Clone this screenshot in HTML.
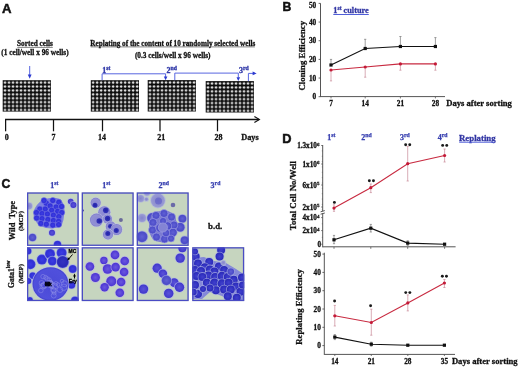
<!DOCTYPE html>
<html><head><meta charset="utf-8"><style>
html,body{margin:0;padding:0;background:#fff;}
svg.main{display:block;will-change:transform;filter:blur(0.3px);}
</style></head><body>
<svg class="main" width="520" height="368" viewBox="0 0 520 368">
<defs>
<pattern id="wells" x="0" y="0" width="4" height="3.9" patternUnits="userSpaceOnUse">
<circle cx="2.3" cy="2.4" r="1.15" fill="#fff"/>
</pattern>
<radialGradient id="gB"><stop offset="0" stop-color="#3c3ce4"/><stop offset="0.75" stop-color="#3030d6"/><stop offset="1" stop-color="#4848d8"/></radialGradient>
<radialGradient id="gC"><stop offset="0" stop-color="#5a52d8"/><stop offset="0.7" stop-color="#4840d0"/><stop offset="1" stop-color="#3c34c8"/></radialGradient>
<radialGradient id="gE"><stop offset="0" stop-color="#4040cc"/><stop offset="0.7" stop-color="#3030c0"/><stop offset="1" stop-color="#2a2ab4"/></radialGradient>
<radialGradient id="gD"><stop offset="0" stop-color="#3434c0"/><stop offset="0.8" stop-color="#2a2ab8"/><stop offset="1" stop-color="#4040c8"/></radialGradient>
<radialGradient id="gV"><stop offset="0" stop-color="#6a58dc"/><stop offset="0.55" stop-color="#5a44da"/><stop offset="1" stop-color="#4a34d0"/></radialGradient>
<radialGradient id="gM"><stop offset="0" stop-color="#6060d4"/><stop offset="0.8" stop-color="#4c4cc8"/><stop offset="1" stop-color="#5a5ad0"/></radialGradient>
<radialGradient id="gL"><stop offset="0" stop-color="#8484cc"/><stop offset="1" stop-color="#9a9cd4"/></radialGradient>
<radialGradient id="gP"><stop offset="0" stop-color="#8a88d2"/><stop offset="0.8" stop-color="#9290d4"/><stop offset="1" stop-color="#7c7ac8"/></radialGradient>
<radialGradient id="gN"><stop offset="0" stop-color="#2222a8"/><stop offset="1" stop-color="#3434b8"/></radialGradient>
<radialGradient id="gK"><stop offset="0" stop-color="#3a3ac4"/><stop offset="0.25" stop-color="#4c4cd8"/><stop offset="0.9" stop-color="#5050dc"/><stop offset="1" stop-color="#4040cc"/></radialGradient>
</defs>
<rect width="520" height="368" fill="#fff"/>
<text x="1.9" y="12.7" font-size="13.2" text-anchor="start" font-family="Liberation Sans" font-weight="bold" fill="#111" stroke="#111" stroke-width="0.5">A</text>
<text x="35" y="46.2" font-size="7.3" text-anchor="middle" font-family="Liberation Serif" font-weight="bold" fill="#111"  stroke="#111" stroke-width="0.28">Sorted cells</text>
<line x1="17.3" y1="47.4" x2="52.8" y2="47.4" stroke="#333" stroke-width="0.6"/>
<text x="35" y="54.9" font-size="7.3" text-anchor="middle" font-family="Liberation Serif" font-weight="bold" fill="#111"  stroke="#111" stroke-width="0.28">(1 cell/well x 96 wells)</text>
<text x="172.8" y="45.7" font-size="7.2" text-anchor="middle" font-family="Liberation Serif" font-weight="bold" fill="#111"  stroke="#111" stroke-width="0.28">Replating of the content of 10 randomly selected wells</text>
<line x1="90.7" y1="46.9" x2="254.9" y2="46.9" stroke="#333" stroke-width="0.6"/>
<text x="172.7" y="58.4" font-size="7.3" text-anchor="middle" font-family="Liberation Serif" font-weight="bold" fill="#111"  stroke="#111" stroke-width="0.28">(0.3 cells/well x 96 wells)</text>
<g transform="translate(2.7,80.2)"><rect width="48.2" height="31.4" fill="#0a0a0a"/><rect width="48.2" height="31.4" fill="url(#wells)"/></g>
<g transform="translate(90.8,80.2)"><rect width="48.2" height="31.4" fill="#0a0a0a"/><rect width="48.2" height="31.4" fill="url(#wells)"/></g>
<g transform="translate(147.7,80.1)"><rect width="48.2" height="31.4" fill="#0a0a0a"/><rect width="48.2" height="31.4" fill="url(#wells)"/></g>
<g transform="translate(205.7,81.1)"><rect width="48.2" height="31.4" fill="#0a0a0a"/><rect width="48.2" height="31.4" fill="url(#wells)"/></g>
<line x1="29.7" y1="66" x2="29.7" y2="75" stroke="#5866e0" stroke-width="1"/>
<polygon points="27.8,74.4 31.6,74.4 29.7,78.8" fill="#2c3ad0"/>
<polyline points="102.1,80.2 102.1,73.8 165.6,73.8 165.6,77" fill="none" stroke="#5866e0" stroke-width="1"/>
<polygon points="163.8,76.4 167.4,76.4 165.6,80.2" fill="#2c3ad0"/>
<polyline points="174.8,80.2 174.8,73.1 238.3,73.1 238.3,77.5" fill="none" stroke="#5866e0" stroke-width="1"/>
<polygon points="236.5,77.2 240.1,77.2 238.3,81" fill="#2c3ad0"/>
<polyline points="248.4,81.1 248.4,73.4 253,73.4" fill="none" stroke="#5866e0" stroke-width="1"/>
<polygon points="252.6,71.5 252.6,75.2 256.7,73.4" fill="#2c3ad0"/>
<text x="102.3" y="72.7" font-size="8" font-family="Liberation Serif" font-weight="bold" fill="#3038a8" stroke="#3038a8" stroke-width="0.3">1<tspan font-size="5.76" dy="-3.00">st</tspan></text>
<text x="166.6" y="72.7" font-size="8" font-family="Liberation Serif" font-weight="bold" fill="#3038a8" stroke="#3038a8" stroke-width="0.3">2<tspan font-size="5.76" dy="-3.00">nd</tspan></text>
<text x="239.0" y="72.7" font-size="8" font-family="Liberation Serif" font-weight="bold" fill="#3038a8" stroke="#3038a8" stroke-width="0.3">3<tspan font-size="5.76" dy="-3.00">rd</tspan></text>
<line x1="5.0" y1="119.5" x2="259" y2="119.5" stroke="#111" stroke-width="1.3"/>
<polyline points="254.4,116.6 259.4,119.5 254.4,122.4" fill="none" stroke="#111" stroke-width="1.1"/>
<line x1="5.6" y1="119.5" x2="5.6" y2="131.3" stroke="#111" stroke-width="1.25"/>
<text x="6.8" y="140.3" font-size="8" text-anchor="middle" font-family="Liberation Serif" font-weight="bold" fill="#111"  stroke="#111" stroke-width="0.28">0</text>
<line x1="53.5" y1="119.5" x2="53.5" y2="131.3" stroke="#111" stroke-width="1.25"/>
<text x="53.4" y="140.3" font-size="8" text-anchor="middle" font-family="Liberation Serif" font-weight="bold" fill="#111"  stroke="#111" stroke-width="0.28">7</text>
<line x1="102.5" y1="119.5" x2="102.5" y2="131.3" stroke="#111" stroke-width="1.25"/>
<text x="101.9" y="140.3" font-size="8" text-anchor="middle" font-family="Liberation Serif" font-weight="bold" fill="#111"  stroke="#111" stroke-width="0.28">14</text>
<line x1="160" y1="119.5" x2="160" y2="131.3" stroke="#111" stroke-width="1.25"/>
<text x="161.2" y="140.3" font-size="8" text-anchor="middle" font-family="Liberation Serif" font-weight="bold" fill="#111"  stroke="#111" stroke-width="0.28">21</text>
<line x1="217.5" y1="119.5" x2="217.5" y2="131.3" stroke="#111" stroke-width="1.25"/>
<text x="218.6" y="140.3" font-size="8" text-anchor="middle" font-family="Liberation Serif" font-weight="bold" fill="#111"  stroke="#111" stroke-width="0.28">28</text>
<text x="241.2" y="139.8" font-size="8.3" text-anchor="start" font-family="Liberation Serif" font-weight="bold" fill="#111"  stroke="#111" stroke-width="0.28">Days</text>
<text x="282.4" y="11.3" font-size="12.2" text-anchor="start" font-family="Liberation Sans" font-weight="bold" fill="#111" stroke="#111" stroke-width="0.5">B</text>
<line x1="320.5" y1="3.3" x2="320.5" y2="97" stroke="#555" stroke-width="1"/>
<line x1="320.5" y1="96.6" x2="445" y2="96.6" stroke="#555" stroke-width="1"/>
<line x1="318.6" y1="3.4" x2="320.5" y2="3.4" stroke="#555" stroke-width="0.9"/>
<text x="316.2" y="7.5" font-size="7.3" text-anchor="end" font-family="Liberation Serif" font-weight="bold" fill="#111"  stroke="#111" stroke-width="0.28">50</text>
<line x1="318.6" y1="22.06" x2="320.5" y2="22.06" stroke="#555" stroke-width="0.9"/>
<text x="316.2" y="24.56" font-size="7.3" text-anchor="end" font-family="Liberation Serif" font-weight="bold" fill="#111"  stroke="#111" stroke-width="0.28">40</text>
<line x1="318.6" y1="40.72" x2="320.5" y2="40.72" stroke="#555" stroke-width="0.9"/>
<text x="316.2" y="43.22" font-size="7.3" text-anchor="end" font-family="Liberation Serif" font-weight="bold" fill="#111"  stroke="#111" stroke-width="0.28">30</text>
<line x1="318.6" y1="59.38" x2="320.5" y2="59.38" stroke="#555" stroke-width="0.9"/>
<text x="316.2" y="61.88" font-size="7.3" text-anchor="end" font-family="Liberation Serif" font-weight="bold" fill="#111"  stroke="#111" stroke-width="0.28">20</text>
<line x1="318.6" y1="78.04" x2="320.5" y2="78.04" stroke="#555" stroke-width="0.9"/>
<text x="316.2" y="80.54" font-size="7.3" text-anchor="end" font-family="Liberation Serif" font-weight="bold" fill="#111"  stroke="#111" stroke-width="0.28">10</text>
<line x1="318.6" y1="96.7" x2="320.5" y2="96.7" stroke="#555" stroke-width="0.9"/>
<text x="316.2" y="99.2" font-size="7.3" text-anchor="end" font-family="Liberation Serif" font-weight="bold" fill="#111"  stroke="#111" stroke-width="0.28">0</text>
<line x1="331" y1="96.7" x2="331" y2="98.4" stroke="#555" stroke-width="0.8"/>
<text x="331" y="106" font-size="7.3" text-anchor="middle" font-family="Liberation Serif" font-weight="bold" fill="#111"  stroke="#111" stroke-width="0.28">7</text>
<line x1="365.2" y1="96.7" x2="365.2" y2="98.4" stroke="#555" stroke-width="0.8"/>
<text x="365.2" y="106" font-size="7.3" text-anchor="middle" font-family="Liberation Serif" font-weight="bold" fill="#111"  stroke="#111" stroke-width="0.28">14</text>
<line x1="400.4" y1="96.7" x2="400.4" y2="98.4" stroke="#555" stroke-width="0.8"/>
<text x="400.4" y="106" font-size="7.3" text-anchor="middle" font-family="Liberation Serif" font-weight="bold" fill="#111"  stroke="#111" stroke-width="0.28">21</text>
<line x1="435.4" y1="96.7" x2="435.4" y2="98.4" stroke="#555" stroke-width="0.8"/>
<text x="435.4" y="106" font-size="7.3" text-anchor="middle" font-family="Liberation Serif" font-weight="bold" fill="#111"  stroke="#111" stroke-width="0.28">28</text>
<text x="0" y="0" transform="translate(305.2,55.7) rotate(-90)" font-size="8.8" text-anchor="middle" font-family="Liberation Serif" font-weight="bold" fill="#111" stroke="#111" stroke-width="0.28">Cloning Efficiency</text>
<text x="333.3" y="13" font-size="8.3" font-family="Liberation Serif" font-weight="bold" fill="#3236a4" stroke="#3236a4" stroke-width="0.28">1<tspan font-size="5.6" dy="-3">st</tspan><tspan dy="3"> culture</tspan></text>
<line x1="333.3" y1="14.5" x2="368.8" y2="14.5" stroke="#4f5ed8" stroke-width="1"/>
<text x="446.2" y="106.1" font-size="8.6" text-anchor="start" font-family="Liberation Serif" font-weight="bold" fill="#111"  stroke="#111" stroke-width="0.28">Days after sorting</text>
<line x1="331" y1="59.4" x2="331" y2="65" stroke="#777" stroke-width="0.7"/>
<line x1="329.9" y1="59.4" x2="332.1" y2="59.4" stroke="#777" stroke-width="0.7"/>
<line x1="329.9" y1="65" x2="332.1" y2="65" stroke="#777" stroke-width="0.7"/>
<line x1="365.2" y1="39.3" x2="365.2" y2="48.5" stroke="#777" stroke-width="0.7"/>
<line x1="364.09999999999997" y1="39.3" x2="366.3" y2="39.3" stroke="#777" stroke-width="0.7"/>
<line x1="364.09999999999997" y1="48.5" x2="366.3" y2="48.5" stroke="#777" stroke-width="0.7"/>
<line x1="400.4" y1="36.5" x2="400.4" y2="46.5" stroke="#777" stroke-width="0.7"/>
<line x1="399.29999999999995" y1="36.5" x2="401.5" y2="36.5" stroke="#777" stroke-width="0.7"/>
<line x1="399.29999999999995" y1="46.5" x2="401.5" y2="46.5" stroke="#777" stroke-width="0.7"/>
<line x1="435.4" y1="37.6" x2="435.4" y2="46.5" stroke="#777" stroke-width="0.7"/>
<line x1="434.29999999999995" y1="37.6" x2="436.5" y2="37.6" stroke="#777" stroke-width="0.7"/>
<line x1="434.29999999999995" y1="46.5" x2="436.5" y2="46.5" stroke="#777" stroke-width="0.7"/>
<polyline points="331,65 365.2,48.5 400.4,46.5 435.4,46.5" fill="none" stroke="#111" stroke-width="1.1"/>
<rect x="329.4" y="63.4" width="3.2" height="3.2" fill="#111"/>
<rect x="363.59999999999997" y="46.9" width="3.2" height="3.2" fill="#111"/>
<rect x="398.79999999999995" y="44.9" width="3.2" height="3.2" fill="#111"/>
<rect x="433.79999999999995" y="44.9" width="3.2" height="3.2" fill="#111"/>
<line x1="331" y1="70" x2="331" y2="80.9" stroke="#c88a98" stroke-width="0.7"/>
<line x1="329.9" y1="70" x2="332.1" y2="70" stroke="#c88a98" stroke-width="0.7"/>
<line x1="329.9" y1="80.9" x2="332.1" y2="80.9" stroke="#c88a98" stroke-width="0.7"/>
<line x1="365.2" y1="67" x2="365.2" y2="77.2" stroke="#c88a98" stroke-width="0.7"/>
<line x1="364.09999999999997" y1="67" x2="366.3" y2="67" stroke="#c88a98" stroke-width="0.7"/>
<line x1="364.09999999999997" y1="77.2" x2="366.3" y2="77.2" stroke="#c88a98" stroke-width="0.7"/>
<line x1="400.4" y1="63.9" x2="400.4" y2="70.2" stroke="#c88a98" stroke-width="0.7"/>
<line x1="399.29999999999995" y1="63.9" x2="401.5" y2="63.9" stroke="#c88a98" stroke-width="0.7"/>
<line x1="399.29999999999995" y1="70.2" x2="401.5" y2="70.2" stroke="#c88a98" stroke-width="0.7"/>
<line x1="435.4" y1="63.9" x2="435.4" y2="70.2" stroke="#c88a98" stroke-width="0.7"/>
<line x1="434.29999999999995" y1="63.9" x2="436.5" y2="63.9" stroke="#c88a98" stroke-width="0.7"/>
<line x1="434.29999999999995" y1="70.2" x2="436.5" y2="70.2" stroke="#c88a98" stroke-width="0.7"/>
<polyline points="331,70 365.2,67 400.4,63.9 435.4,63.9" fill="none" stroke="#c82a40" stroke-width="1.1"/>
<circle cx="331" cy="70" r="1.6" fill="#c41a38"/>
<circle cx="365.2" cy="67" r="1.6" fill="#c41a38"/>
<circle cx="400.4" cy="63.9" r="1.6" fill="#c41a38"/>
<circle cx="435.4" cy="63.9" r="1.6" fill="#c41a38"/>
<text x="1.4" y="187.5" font-size="12.2" text-anchor="start" font-family="Liberation Sans" font-weight="bold" fill="#111" stroke="#111" stroke-width="0.5">C</text>
<text x="50.2" y="187.8" font-size="8" font-family="Liberation Serif" font-weight="bold" fill="#3840b0" stroke="#3840b0" stroke-width="0.25">1<tspan font-size="5.76" dy="-3.00">st</tspan></text>
<text x="102.3" y="187.8" font-size="8" font-family="Liberation Serif" font-weight="bold" fill="#3840b0" stroke="#3840b0" stroke-width="0.25">1<tspan font-size="5.76" dy="-3.00">st</tspan></text>
<text x="158.6" y="187.8" font-size="8" font-family="Liberation Serif" font-weight="bold" fill="#3840b0" stroke="#3840b0" stroke-width="0.25">2<tspan font-size="5.76" dy="-3.00">nd</tspan></text>
<text x="210.6" y="187.8" font-size="8" font-family="Liberation Serif" font-weight="bold" fill="#3840b0" stroke="#3840b0" stroke-width="0.25">3<tspan font-size="5.76" dy="-3.00">rd</tspan></text>
<text x="215.2" y="229.2" font-size="8.8" text-anchor="middle" font-family="Liberation Serif" font-weight="bold" fill="#111"  stroke="#111" stroke-width="0.28">b.d.</text>
<text transform="translate(14.6,220.6) rotate(-90)" font-size="8.4" word-spacing="2.2" text-anchor="middle" font-family="Liberation Serif" font-weight="bold" fill="#111" stroke="#111" stroke-width="0.28">Wild Type</text>
<text transform="translate(23.2,221.1) rotate(-90)" font-size="6.8" text-anchor="middle" font-family="Liberation Serif" font-weight="bold" fill="#111" stroke="#111" stroke-width="0.28">(MCP)</text>
<text transform="translate(13.6,274.2) rotate(-90)" font-size="7.6" text-anchor="middle" font-family="Liberation Serif" font-weight="bold" fill="#111" stroke="#111" stroke-width="0.28">Gata1<tspan font-size="5.2" dy="-3.3">low</tspan></text>
<text transform="translate(23.2,273.8) rotate(-90)" font-size="6.8" text-anchor="middle" font-family="Liberation Serif" font-weight="bold" fill="#111" stroke="#111" stroke-width="0.28">(MEP)</text>
<rect x="27" y="192.4" width="51.7" height="53.5" fill="#c6d5bf"/>
<svg x="27" y="192.4" width="51.7" height="53.5" overflow="hidden"><g transform="translate(-27,-192.4)">
<path d="M44 199.5 Q52 196.5 60 199 Q65 204 64.5 212 Q64 220 61.5 226 Q55 229.5 46 228 Q38 226 35 220 Q32 213 35 208 Q39 201 44 199.5 Z" fill="#7c80e0"/>
<circle cx="52.8" cy="200.5" r="3" fill="url(#gB)" stroke="#7070e4" stroke-width="0.5"/>
<circle cx="58.8" cy="202.3" r="3" fill="url(#gB)" stroke="#7070e4" stroke-width="0.5"/>
<circle cx="46.3" cy="203.3" r="3" fill="url(#gB)" stroke="#7070e4" stroke-width="0.5"/>
<circle cx="50.1" cy="205.9" r="3" fill="url(#gB)" stroke="#7070e4" stroke-width="0.5"/>
<circle cx="56.1" cy="207" r="3" fill="url(#gB)" stroke="#7070e4" stroke-width="0.5"/>
<circle cx="39.8" cy="209.1" r="3" fill="url(#gB)" stroke="#7070e4" stroke-width="0.5"/>
<circle cx="45.2" cy="209.1" r="3" fill="url(#gB)" stroke="#7070e4" stroke-width="0.5"/>
<circle cx="51.7" cy="210.2" r="3" fill="url(#gB)" stroke="#7070e4" stroke-width="0.5"/>
<circle cx="57.7" cy="211.3" r="3" fill="url(#gB)" stroke="#7070e4" stroke-width="0.5"/>
<circle cx="61.7" cy="212.6" r="3" fill="url(#gB)" stroke="#7070e4" stroke-width="0.5"/>
<circle cx="36.5" cy="212.6" r="3" fill="url(#gB)" stroke="#7070e4" stroke-width="0.5"/>
<circle cx="42" cy="213.5" r="3" fill="url(#gB)" stroke="#7070e4" stroke-width="0.5"/>
<circle cx="47.4" cy="214" r="3" fill="url(#gB)" stroke="#7070e4" stroke-width="0.5"/>
<circle cx="53.4" cy="215.1" r="3" fill="url(#gB)" stroke="#7070e4" stroke-width="0.5"/>
<circle cx="58.8" cy="216.6" r="3" fill="url(#gB)" stroke="#7070e4" stroke-width="0.5"/>
<circle cx="36.7" cy="218" r="3" fill="url(#gB)" stroke="#7070e4" stroke-width="0.5"/>
<circle cx="42" cy="218.6" r="3" fill="url(#gB)" stroke="#7070e4" stroke-width="0.5"/>
<circle cx="47.9" cy="219.5" r="3" fill="url(#gB)" stroke="#7070e4" stroke-width="0.5"/>
<circle cx="53.4" cy="220.5" r="3" fill="url(#gB)" stroke="#7070e4" stroke-width="0.5"/>
<circle cx="58.6" cy="221.3" r="3" fill="url(#gB)" stroke="#7070e4" stroke-width="0.5"/>
<circle cx="40.9" cy="223.4" r="3" fill="url(#gB)" stroke="#7070e4" stroke-width="0.5"/>
<circle cx="46.3" cy="224.2" r="3" fill="url(#gB)" stroke="#7070e4" stroke-width="0.5"/>
<circle cx="52.8" cy="225.1" r="3" fill="url(#gB)" stroke="#7070e4" stroke-width="0.5"/>
<circle cx="58.6" cy="224.6" r="3" fill="url(#gB)" stroke="#7070e4" stroke-width="0.5"/>
<circle cx="61.5" cy="206.5" r="3" fill="url(#gB)" stroke="#7070e4" stroke-width="0.5"/>
<circle cx="44" cy="200.6" r="3" fill="url(#gB)" stroke="#7070e4" stroke-width="0.5"/>
<circle cx="70.7" cy="201.5" r="3.6" fill="#b0b4ea" opacity="0.75"/>
<circle cx="70.7" cy="201.5" r="2.8" fill="url(#gC)"/>
<circle cx="73.4" cy="205.0" r="3.8" fill="#b0b4ea" opacity="0.75"/>
<circle cx="73.4" cy="205.0" r="3" fill="url(#gC)"/>
<circle cx="29.0" cy="206.0" r="4.0" fill="#b0b6de" opacity="0.75"/>
<circle cx="29.0" cy="206.0" r="3.2" fill="url(#gL)"/>
<circle cx="52.0" cy="232.8" r="3.8" fill="#b0b4ea" opacity="0.75"/>
<circle cx="52.0" cy="232.8" r="3" fill="url(#gC)"/>
<circle cx="32.5" cy="237.5" r="4.6" fill="#a4aade" opacity="0.75"/>
<circle cx="32.5" cy="237.5" r="3.8" fill="url(#gM)"/>
<circle cx="57.5" cy="244.5" r="4.6" fill="#aab4e6" opacity="0.75"/>
<circle cx="57.5" cy="244.5" r="3.8" fill="url(#gB)"/>
</g></svg>
<rect x="27.65" y="193.05" width="50.400000000000006" height="52.2" fill="none" stroke="#4a4cc4" stroke-width="1.3"/>
<rect x="81.7" y="192.4" width="52" height="53.5" fill="#c6d5bf"/>
<svg x="81.7" y="192.4" width="52" height="53.5" overflow="hidden"><g transform="translate(-81.7,-192.4)">
<circle cx="95.7" cy="202.8" r="5.7" fill="#c0c4e6" opacity="0.7"/>
<circle cx="95.7" cy="202.8" r="5" fill="url(#gP)"/>
<circle cx="95.0" cy="205.2" r="2.5" fill="url(#gN)"/>
<circle cx="104.3" cy="212.2" r="6.7" fill="#c0c4e6" opacity="0.7"/>
<circle cx="104.3" cy="212.2" r="6" fill="url(#gP)"/>
<circle cx="105.8" cy="210.2" r="2.8" fill="url(#gN)"/>
<circle cx="96.5" cy="220.1" r="7.2" fill="#c0c4e6" opacity="0.7"/>
<circle cx="96.5" cy="220.1" r="6.5" fill="url(#gP)"/>
<circle cx="99.3" cy="221.0" r="2.8" fill="url(#gN)"/>
<circle cx="107.5" cy="219.0" r="5.2" fill="#c0c4e6" opacity="0.7"/>
<circle cx="107.5" cy="219.0" r="4.5" fill="url(#gP)"/>
<circle cx="107.6" cy="218.5" r="2.7" fill="url(#gN)"/>
<circle cx="110.8" cy="226.6" r="5.7" fill="#c0c4e6" opacity="0.7"/>
<circle cx="110.8" cy="226.6" r="5" fill="url(#gP)"/>
<circle cx="110.4" cy="226.3" r="2.4" fill="url(#gN)"/>
<circle cx="116.6" cy="229.5" r="6.2" fill="#c0c4e6" opacity="0.7"/>
<circle cx="116.6" cy="229.5" r="5.5" fill="url(#gP)"/>
<circle cx="116.3" cy="230.6" r="2.5" fill="url(#gN)"/>
<circle cx="108.0" cy="234.5" r="5.7" fill="#c0c4e6" opacity="0.7"/>
<circle cx="108.0" cy="234.5" r="5" fill="url(#gP)"/>
<circle cx="107.8" cy="233.5" r="2.5" fill="url(#gN)"/>
<circle cx="120.9" cy="220.1" r="2" fill="#6a6a9a"/>
<circle cx="83" cy="210.5" r="1" fill="#4a4aa0"/>
</g></svg>
<rect x="82.35000000000001" y="193.05" width="50.7" height="52.2" fill="none" stroke="#4a4cc4" stroke-width="1.3"/>
<rect x="136.7" y="192.4" width="52" height="53.5" fill="#c6d5bf"/>
<svg x="136.7" y="192.4" width="52" height="53.5" overflow="hidden"><g transform="translate(-136.7,-192.4)">
<circle cx="157.9" cy="200.6" r="7.8" fill="#b0b6de" opacity="0.75"/>
<circle cx="157.9" cy="200.6" r="7" fill="url(#gL)"/>
<circle cx="158.5" cy="201" r="3.5" fill="#5a5ac8" opacity="0.6"/>
<circle cx="140.6" cy="198.5" r="4.3" fill="#b0b6de" opacity="0.75"/>
<circle cx="140.6" cy="198.5" r="3.5" fill="url(#gL)"/>
<circle cx="146.4" cy="199.2" r="2.6" fill="#b0b6de" opacity="0.75"/>
<circle cx="146.4" cy="199.2" r="1.8" fill="url(#gL)"/>
<circle cx="147.0" cy="192.7" r="3.8" fill="#b0b6de" opacity="0.75"/>
<circle cx="147.0" cy="192.7" r="3" fill="url(#gL)"/>
<circle cx="173" cy="205" r="2.3" fill="#6a6aa8"/>
<circle cx="142.0" cy="218.0" r="4.8" fill="#b0b6de" opacity="0.75"/>
<circle cx="142.0" cy="218.0" r="4" fill="url(#gL)"/>
<circle cx="152.1" cy="218.0" r="5.8" fill="#a4aade" opacity="0.75"/>
<circle cx="152.1" cy="218.0" r="5" fill="url(#gM)"/>
<circle cx="182.4" cy="218.7" r="4.8" fill="#a4aade" opacity="0.75"/>
<circle cx="182.4" cy="218.7" r="4" fill="url(#gM)"/>
<circle cx="180.2" cy="227.3" r="5.3" fill="#a4aade" opacity="0.75"/>
<circle cx="180.2" cy="227.3" r="4.5" fill="url(#gM)"/>
<circle cx="142.0" cy="236.7" r="6.3" fill="#a4aade" opacity="0.75"/>
<circle cx="142.0" cy="236.7" r="5.5" fill="url(#gM)"/>
<circle cx="184.6" cy="240.3" r="4.8" fill="#a4aade" opacity="0.75"/>
<circle cx="184.6" cy="240.3" r="4" fill="url(#gM)"/>
<path d="M152 214 Q160 209 168 211 Q176 214 176.5 222 Q178 232 174 238 Q168 243 160 242 Q152 241 150 234 Q148 226 150 220 Z" fill="#7a7ad0"/>
<circle cx="156" cy="215.5" r="4" fill="url(#gM)" stroke="#9a9ae0" stroke-width="0.6"/>
<circle cx="164" cy="213.5" r="4" fill="url(#gM)" stroke="#9a9ae0" stroke-width="0.6"/>
<circle cx="171.5" cy="217" r="4" fill="url(#gM)" stroke="#9a9ae0" stroke-width="0.6"/>
<circle cx="153" cy="222.5" r="4" fill="url(#gM)" stroke="#9a9ae0" stroke-width="0.6"/>
<circle cx="174" cy="225" r="4" fill="url(#gM)" stroke="#9a9ae0" stroke-width="0.6"/>
<circle cx="152.5" cy="230" r="4" fill="url(#gM)" stroke="#9a9ae0" stroke-width="0.6"/>
<circle cx="173" cy="232.5" r="4.2" fill="url(#gM)" stroke="#9a9ae0" stroke-width="0.6"/>
<circle cx="156.5" cy="237" r="4" fill="url(#gM)" stroke="#9a9ae0" stroke-width="0.6"/>
<circle cx="164.5" cy="239" r="4" fill="url(#gM)" stroke="#9a9ae0" stroke-width="0.6"/>
<circle cx="171" cy="238.5" r="3.5" fill="url(#gM)" stroke="#9a9ae0" stroke-width="0.6"/>
<circle cx="160" cy="228" r="4.2" fill="url(#gM)" stroke="#9a9ae0" stroke-width="0.6"/>
<circle cx="167.5" cy="226" r="4.2" fill="url(#gM)" stroke="#9a9ae0" stroke-width="0.6"/>
<circle cx="163" cy="221" r="3.5" fill="url(#gM)" stroke="#9a9ae0" stroke-width="0.6"/>
<circle cx="166" cy="233" r="3.8" fill="url(#gM)" stroke="#9a9ae0" stroke-width="0.6"/>
<circle cx="162.9" cy="227.5" r="4.6" fill="#8484d4" stroke="#a8a8e4" stroke-width="0.6"/>
</g></svg>
<rect x="137.35" y="193.05" width="50.7" height="52.2" fill="none" stroke="#4a4cc4" stroke-width="1.3"/>
<rect x="27" y="247.2" width="51.7" height="53.9" fill="#c6d5bf"/>
<svg x="27" y="247.2" width="51.7" height="53.9" overflow="hidden"><g transform="translate(-27,-247.2)">
<rect x="60" y="247" width="20" height="30" fill="#d2d6b8" opacity="0.7"/>
<circle cx="41.9" cy="259.6" r="5.8" fill="#aab4e6" opacity="0.75"/>
<circle cx="41.9" cy="259.6" r="5" fill="url(#gB)"/>
<circle cx="50.0" cy="253.9" r="5.8" fill="#aab4e6" opacity="0.75"/>
<circle cx="50.0" cy="253.9" r="5" fill="url(#gB)"/>
<circle cx="52.3" cy="261.0" r="5.3" fill="#aab4e6" opacity="0.75"/>
<circle cx="52.3" cy="261.0" r="4.5" fill="url(#gB)"/>
<circle cx="61.6" cy="252.7" r="5.8" fill="#aab4e6" opacity="0.75"/>
<circle cx="61.6" cy="252.7" r="5" fill="url(#gB)"/>
<circle cx="72.7" cy="268.9" r="4.8" fill="#aab4e6" opacity="0.75"/>
<circle cx="72.7" cy="268.9" r="4" fill="url(#gB)"/>
<circle cx="30.4" cy="264.2" r="5.8" fill="#aab4e6" opacity="0.75"/>
<circle cx="30.4" cy="264.2" r="5" fill="url(#gB)"/>
<circle cx="32.7" cy="275.8" r="4.3" fill="#aab4e6" opacity="0.75"/>
<circle cx="32.7" cy="275.8" r="3.5" fill="url(#gB)"/>
<circle cx="28.4" cy="281.0" r="3.8" fill="#aab4e6" opacity="0.75"/>
<circle cx="28.4" cy="281.0" r="3" fill="url(#gB)"/>
<circle cx="28.0" cy="251.0" r="4.3" fill="#aab4e6" opacity="0.75"/>
<circle cx="28.0" cy="251.0" r="3.5" fill="url(#gB)"/>
<circle cx="71.5" cy="285.0" r="4.6" fill="#aab4e6" opacity="0.75"/>
<circle cx="71.5" cy="285.0" r="3.8" fill="url(#gB)"/>
<circle cx="75.0" cy="300.5" r="4.8" fill="#aab4e6" opacity="0.75"/>
<circle cx="75.0" cy="300.5" r="4" fill="url(#gB)"/>
<circle cx="29.9" cy="300.0" r="3.8" fill="#aab4e6" opacity="0.75"/>
<circle cx="29.9" cy="300.0" r="3" fill="url(#gB)"/>
<circle cx="62.7" cy="261.9" r="6.8" fill="#9aa2e0" opacity="0.75"/>
<circle cx="62.7" cy="261.9" r="6" fill="url(#gD)"/>
<ellipse cx="50.5" cy="284" rx="18.8" ry="17.6" fill="#b8bce8" opacity="0.85"/>
<ellipse cx="50.5" cy="284" rx="18" ry="16.8" fill="url(#gK)"/>
<circle cx="43.0" cy="286.1" r="3.1" fill="none" stroke="#8e8ee8" stroke-width="0.6" opacity="0.85"/>
<circle cx="43.6" cy="285.4" r="2.6" fill="none" stroke="#8e8ee8" stroke-width="0.6" opacity="0.85"/>
<circle cx="53.4" cy="290.1" r="2.7" fill="none" stroke="#8e8ee8" stroke-width="0.6" opacity="0.85"/>
<circle cx="50.9" cy="282.8" r="2.2" fill="none" stroke="#8e8ee8" stroke-width="0.6" opacity="0.85"/>
<circle cx="60.0" cy="289.7" r="2.8" fill="none" stroke="#8e8ee8" stroke-width="0.6" opacity="0.85"/>
<circle cx="63.8" cy="287.3" r="3.2" fill="none" stroke="#8e8ee8" stroke-width="0.6" opacity="0.85"/>
<circle cx="45.6" cy="277.4" r="2.0" fill="none" stroke="#8e8ee8" stroke-width="0.6" opacity="0.85"/>
<circle cx="57.9" cy="284.6" r="1.9" fill="none" stroke="#8e8ee8" stroke-width="0.6" opacity="0.85"/>
<circle cx="51.7" cy="286.9" r="1.8" fill="none" stroke="#8e8ee8" stroke-width="0.6" opacity="0.85"/>
<circle cx="44.5" cy="285.3" r="3.0" fill="none" stroke="#8e8ee8" stroke-width="0.6" opacity="0.85"/>
<circle cx="41.6" cy="283.0" r="2.5" fill="none" stroke="#8e8ee8" stroke-width="0.6" opacity="0.85"/>
<circle cx="47.2" cy="278.9" r="2.2" fill="none" stroke="#8e8ee8" stroke-width="0.6" opacity="0.85"/>
<circle cx="64.4" cy="283.8" r="3.0" fill="none" stroke="#8e8ee8" stroke-width="0.6" opacity="0.85"/>
<circle cx="49.3" cy="280.0" r="2.1" fill="none" stroke="#8e8ee8" stroke-width="0.6" opacity="0.85"/>
<circle cx="50.3" cy="284.9" r="2.9" fill="none" stroke="#8e8ee8" stroke-width="0.6" opacity="0.85"/>
<circle cx="40.9" cy="290.5" r="2.3" fill="none" stroke="#8e8ee8" stroke-width="0.6" opacity="0.85"/>
<circle cx="62.0" cy="281.1" r="1.8" fill="none" stroke="#8e8ee8" stroke-width="0.6" opacity="0.85"/>
<circle cx="53.7" cy="295.5" r="2.5" fill="none" stroke="#8e8ee8" stroke-width="0.6" opacity="0.85"/>
<circle cx="56.0" cy="283.4" r="1.9" fill="none" stroke="#8e8ee8" stroke-width="0.6" opacity="0.85"/>
<circle cx="43.0" cy="276.6" r="2.2" fill="none" stroke="#8e8ee8" stroke-width="0.6" opacity="0.85"/>
<circle cx="54.5" cy="286.3" r="3.1" fill="none" stroke="#8e8ee8" stroke-width="0.6" opacity="0.85"/>
<circle cx="50.6" cy="282.5" r="2.1" fill="none" stroke="#8e8ee8" stroke-width="0.6" opacity="0.85"/>
<circle cx="51.2" cy="284.5" r="2.9" fill="none" stroke="#8e8ee8" stroke-width="0.6" opacity="0.85"/>
<circle cx="53.9" cy="290.5" r="2.4" fill="none" stroke="#8e8ee8" stroke-width="0.6" opacity="0.85"/>
<circle cx="54.2" cy="292.9" r="2.0" fill="none" stroke="#8e8ee8" stroke-width="0.6" opacity="0.85"/>
<circle cx="49.5" cy="282.8" r="2.4" fill="none" stroke="#8e8ee8" stroke-width="0.6" opacity="0.85"/>
<ellipse cx="47.5" cy="284" rx="3" ry="2.4" fill="#1a1a70"/>
<text x="45" y="285.8" font-size="4.8" font-family="Liberation Sans" font-weight="bold" fill="#000" stroke="#000" stroke-width="0.28">Mk</text>
<text x="68.6" y="253" font-size="5" font-family="Liberation Sans" font-weight="bold" fill="#000" stroke="#000" stroke-width="0.28">MC</text>
<path d="M72.5 254.5 L68.6 259" stroke="#000" stroke-width="1"/><polygon points="67.4,260.4 67.8,257.2 70.2,259" fill="#000"/>
<text x="68.8" y="283" font-size="5" font-family="Liberation Sans" font-weight="bold" fill="#000" stroke="#000" stroke-width="0.28">Ery</text>
<path d="M74.5 278.5 L74.5 275.5" stroke="#000" stroke-width="1"/><polygon points="73.1,276.5 75.9,276.5 74.5,273.6" fill="#000"/>
</g></svg>
<rect x="27.65" y="247.85" width="50.400000000000006" height="52.6" fill="none" stroke="#4a4cc4" stroke-width="1.3"/>
<rect x="81.7" y="247.2" width="52" height="53.9" fill="#c6d5bf"/>
<svg x="81.7" y="247.2" width="52" height="53.9" overflow="hidden"><g transform="translate(-81.7,-247.2)">
<circle cx="115.0" cy="254.9" r="5.1" fill="#b8ace8" opacity="0.75"/>
<circle cx="115.0" cy="254.9" r="4.3" fill="url(#gV)"/>
<circle cx="103.9" cy="260.4" r="4.5" fill="#b8ace8" opacity="0.75"/>
<circle cx="103.9" cy="260.4" r="3.7" fill="url(#gV)"/>
<circle cx="124.7" cy="261.0" r="5.1" fill="#b8ace8" opacity="0.75"/>
<circle cx="124.7" cy="261.0" r="4.3" fill="url(#gV)"/>
<circle cx="89.9" cy="266.5" r="5.1" fill="#b8ace8" opacity="0.75"/>
<circle cx="89.9" cy="266.5" r="4.3" fill="url(#gV)"/>
<circle cx="107.6" cy="269.0" r="5.6" fill="#b8ace8" opacity="0.75"/>
<circle cx="107.6" cy="269.0" r="4.8" fill="url(#gV)"/>
<circle cx="115.6" cy="267.1" r="5.1" fill="#b8ace8" opacity="0.75"/>
<circle cx="115.6" cy="267.1" r="4.3" fill="url(#gV)"/>
<circle cx="124.1" cy="272.0" r="5.1" fill="#b8ace8" opacity="0.75"/>
<circle cx="124.1" cy="272.0" r="4.3" fill="url(#gV)"/>
<circle cx="95.4" cy="277.5" r="5.3" fill="#b8ace8" opacity="0.75"/>
<circle cx="95.4" cy="277.5" r="4.5" fill="url(#gV)"/>
<circle cx="111.3" cy="281.2" r="5.8" fill="#b8ace8" opacity="0.75"/>
<circle cx="111.3" cy="281.2" r="5" fill="url(#gV)"/>
<circle cx="121.1" cy="282.0" r="5.1" fill="#b8ace8" opacity="0.75"/>
<circle cx="121.1" cy="282.0" r="4.3" fill="url(#gV)"/>
<circle cx="104.6" cy="287.3" r="5.0" fill="#b8ace8" opacity="0.75"/>
<circle cx="104.6" cy="287.3" r="4.2" fill="url(#gV)"/>
<circle cx="119.8" cy="292.8" r="5.1" fill="#b8ace8" opacity="0.75"/>
<circle cx="119.8" cy="292.8" r="4.3" fill="url(#gV)"/>
</g></svg>
<rect x="82.35000000000001" y="247.85" width="50.7" height="52.6" fill="none" stroke="#4a4cc4" stroke-width="1.3"/>
<rect x="136.7" y="247.2" width="52" height="53.9" fill="#c6d5bf"/>
<svg x="136.7" y="247.2" width="52" height="53.9" overflow="hidden"><g transform="translate(-136.7,-247.2)">
<circle cx="182.4" cy="248.2" r="4.8" fill="#b0b4ea" opacity="0.75"/>
<circle cx="182.4" cy="248.2" r="4" fill="url(#gC)"/>
<circle cx="180.2" cy="258.1" r="5.5" fill="#b0b4ea" opacity="0.75"/>
<circle cx="180.2" cy="258.1" r="4.7" fill="url(#gC)"/>
<circle cx="157.2" cy="268.2" r="5.4" fill="#b0b4ea" opacity="0.75"/>
<circle cx="157.2" cy="268.2" r="4.6" fill="url(#gC)"/>
<circle cx="162.9" cy="273.6" r="5.0" fill="#b0b4ea" opacity="0.75"/>
<circle cx="162.9" cy="273.6" r="4.2" fill="url(#gC)"/>
<circle cx="174.2" cy="282.6" r="5.2" fill="#b0b4ea" opacity="0.75"/>
<circle cx="174.2" cy="282.6" r="4.4" fill="url(#gC)"/>
<circle cx="179.5" cy="287.2" r="5.5" fill="#b0b4ea" opacity="0.75"/>
<circle cx="179.5" cy="287.2" r="4.7" fill="url(#gC)"/>
<circle cx="143.5" cy="289.1" r="5.5" fill="#b0b4ea" opacity="0.75"/>
<circle cx="143.5" cy="289.1" r="4.7" fill="url(#gC)"/>
<circle cx="168.7" cy="293.4" r="5.5" fill="#b0b4ea" opacity="0.75"/>
<circle cx="168.7" cy="293.4" r="4.7" fill="url(#gC)"/>
<circle cx="166.5" cy="280.4" r="5.6" fill="#a4aade" opacity="0.75"/>
<circle cx="166.5" cy="280.4" r="4.8" fill="url(#gM)"/>
</g></svg>
<rect x="137.35" y="247.85" width="50.7" height="52.6" fill="none" stroke="#4a4cc4" stroke-width="1.3"/>
<rect x="192.2" y="247.2" width="52" height="53.9" fill="#c6d5bf"/>
<svg x="192.2" y="247.2" width="52" height="53.9" overflow="hidden"><g transform="translate(-192.2,-247.2)">
<path d="M192 258 L204 257 L214 261 L226 263 L236 269 L245 275 L245 302 L232 302 L222 296 L210 292 L202 299 L192 299 Z" fill="#8488d8"/>
<circle cx="221.1" cy="250.0" r="4.8" fill="#a8aee4" opacity="0.75"/>
<circle cx="221.1" cy="250.0" r="4" fill="url(#gE)"/>
<circle cx="219.6" cy="256.5" r="4.8" fill="#a8aee4" opacity="0.75"/>
<circle cx="219.6" cy="256.5" r="4" fill="url(#gE)"/>
<circle cx="195.7" cy="256.7" r="4.8" fill="#a8aee4" opacity="0.75"/>
<circle cx="195.7" cy="256.7" r="4" fill="url(#gE)"/>
<circle cx="198.0" cy="263.4" r="4.8" fill="#a8aee4" opacity="0.75"/>
<circle cx="198.0" cy="263.4" r="4" fill="url(#gE)"/>
<circle cx="209.2" cy="261.9" r="4.8" fill="#a8aee4" opacity="0.75"/>
<circle cx="209.2" cy="261.9" r="4" fill="url(#gE)"/>
<circle cx="204.7" cy="267.1" r="4.6" fill="#a8aee4" opacity="0.75"/>
<circle cx="204.7" cy="267.1" r="3.8" fill="url(#gE)"/>
<circle cx="195.0" cy="270.1" r="4.8" fill="#a8aee4" opacity="0.75"/>
<circle cx="195.0" cy="270.1" r="4" fill="url(#gE)"/>
<circle cx="201.0" cy="270.9" r="4.8" fill="#a8aee4" opacity="0.75"/>
<circle cx="201.0" cy="270.9" r="4" fill="url(#gE)"/>
<circle cx="209.9" cy="269.4" r="4.8" fill="#a8aee4" opacity="0.75"/>
<circle cx="209.9" cy="269.4" r="4" fill="url(#gE)"/>
<circle cx="218.9" cy="266.4" r="4.8" fill="#a8aee4" opacity="0.75"/>
<circle cx="218.9" cy="266.4" r="4" fill="url(#gE)"/>
<circle cx="224.1" cy="270.1" r="4.8" fill="#a8aee4" opacity="0.75"/>
<circle cx="224.1" cy="270.1" r="4" fill="url(#gE)"/>
<circle cx="214.4" cy="271.6" r="4.8" fill="#a8aee4" opacity="0.75"/>
<circle cx="214.4" cy="271.6" r="4" fill="url(#gE)"/>
<circle cx="208.4" cy="275.4" r="4.8" fill="#a8aee4" opacity="0.75"/>
<circle cx="208.4" cy="275.4" r="4" fill="url(#gE)"/>
<circle cx="196.5" cy="276.1" r="4.8" fill="#a8aee4" opacity="0.75"/>
<circle cx="196.5" cy="276.1" r="4" fill="url(#gE)"/>
<circle cx="202.4" cy="276.9" r="4.8" fill="#a8aee4" opacity="0.75"/>
<circle cx="202.4" cy="276.9" r="4" fill="url(#gE)"/>
<circle cx="215.1" cy="276.9" r="4.8" fill="#a8aee4" opacity="0.75"/>
<circle cx="215.1" cy="276.9" r="4" fill="url(#gE)"/>
<circle cx="221.9" cy="276.1" r="5.1" fill="#a8aee4" opacity="0.75"/>
<circle cx="221.9" cy="276.1" r="4.3" fill="url(#gE)"/>
<circle cx="227.8" cy="276.9" r="4.8" fill="#a8aee4" opacity="0.75"/>
<circle cx="227.8" cy="276.9" r="4" fill="url(#gE)"/>
<circle cx="233.8" cy="279.8" r="4.8" fill="#a8aee4" opacity="0.75"/>
<circle cx="233.8" cy="279.8" r="4" fill="url(#gE)"/>
<circle cx="242.0" cy="277.6" r="4.8" fill="#a8aee4" opacity="0.75"/>
<circle cx="242.0" cy="277.6" r="4" fill="url(#gE)"/>
<circle cx="206.9" cy="282.8" r="4.8" fill="#a8aee4" opacity="0.75"/>
<circle cx="206.9" cy="282.8" r="4" fill="url(#gE)"/>
<circle cx="214.4" cy="282.8" r="5.1" fill="#a8aee4" opacity="0.75"/>
<circle cx="214.4" cy="282.8" r="4.3" fill="url(#gE)"/>
<circle cx="221.9" cy="283.6" r="5.1" fill="#a8aee4" opacity="0.75"/>
<circle cx="221.9" cy="283.6" r="4.3" fill="url(#gE)"/>
<circle cx="228.6" cy="282.8" r="4.8" fill="#a8aee4" opacity="0.75"/>
<circle cx="228.6" cy="282.8" r="4" fill="url(#gE)"/>
<circle cx="236.0" cy="286.6" r="4.8" fill="#a8aee4" opacity="0.75"/>
<circle cx="236.0" cy="286.6" r="4" fill="url(#gE)"/>
<circle cx="195.0" cy="285.1" r="4.8" fill="#a8aee4" opacity="0.75"/>
<circle cx="195.0" cy="285.1" r="4" fill="url(#gE)"/>
<circle cx="215.9" cy="290.3" r="4.8" fill="#a8aee4" opacity="0.75"/>
<circle cx="215.9" cy="290.3" r="4" fill="url(#gE)"/>
<circle cx="224.1" cy="289.5" r="4.8" fill="#a8aee4" opacity="0.75"/>
<circle cx="224.1" cy="289.5" r="4" fill="url(#gE)"/>
<circle cx="230.8" cy="289.5" r="4.8" fill="#a8aee4" opacity="0.75"/>
<circle cx="230.8" cy="289.5" r="4" fill="url(#gE)"/>
<circle cx="240.5" cy="291.8" r="4.8" fill="#a8aee4" opacity="0.75"/>
<circle cx="240.5" cy="291.8" r="4" fill="url(#gE)"/>
<circle cx="198.0" cy="294.0" r="4.8" fill="#a8aee4" opacity="0.75"/>
<circle cx="198.0" cy="294.0" r="4" fill="url(#gE)"/>
<circle cx="227.8" cy="296.3" r="4.8" fill="#a8aee4" opacity="0.75"/>
<circle cx="227.8" cy="296.3" r="4" fill="url(#gE)"/>
<circle cx="236.8" cy="297.7" r="4.8" fill="#a8aee4" opacity="0.75"/>
<circle cx="236.8" cy="297.7" r="4" fill="url(#gE)"/>
<circle cx="195.0" cy="251.5" r="3.8" fill="#a8aee4" opacity="0.75"/>
<circle cx="195.0" cy="251.5" r="3" fill="url(#gE)"/>
<circle cx="193.5" cy="292.0" r="4.0" fill="#a8aee4" opacity="0.75"/>
<circle cx="193.5" cy="292.0" r="3.2" fill="url(#gE)"/>
<circle cx="242.5" cy="285.0" r="4.3" fill="#a8aee4" opacity="0.75"/>
<circle cx="242.5" cy="285.0" r="3.5" fill="url(#gE)"/>
<circle cx="210.0" cy="288.0" r="4.3" fill="#a8aee4" opacity="0.75"/>
<circle cx="210.0" cy="288.0" r="3.5" fill="url(#gE)"/>
<circle cx="203.0" cy="289.0" r="3.8" fill="#a8aee4" opacity="0.75"/>
<circle cx="203.0" cy="289.0" r="3" fill="url(#gE)"/>
<circle cx="230.8" cy="271.6" r="4.2" fill="#a4aade" opacity="0.75"/>
<circle cx="230.8" cy="271.6" r="3.4" fill="url(#gM)"/>
<circle cx="223.3" cy="262.7" r="3.0" fill="#b0b6de" opacity="0.75"/>
<circle cx="223.3" cy="262.7" r="2.2" fill="url(#gL)"/>
</g></svg>
<rect x="192.85" y="247.85" width="50.7" height="52.6" fill="none" stroke="#4a4cc4" stroke-width="1.3"/>
<text x="282.2" y="142.5" font-size="12.8" text-anchor="start" font-family="Liberation Sans" font-weight="bold" fill="#111" stroke="#111" stroke-width="0.5">D</text>
<text x="327.3" y="139.8" font-size="8" font-family="Liberation Serif" font-weight="bold" fill="#3840b0" stroke="#3840b0" stroke-width="0.25">1<tspan font-size="5.76" dy="-3.00">st</tspan></text>
<text x="361.3" y="139.8" font-size="8" font-family="Liberation Serif" font-weight="bold" fill="#3840b0" stroke="#3840b0" stroke-width="0.25">2<tspan font-size="5.76" dy="-3.00">nd</tspan></text>
<text x="400.0" y="139.8" font-size="8" font-family="Liberation Serif" font-weight="bold" fill="#3840b0" stroke="#3840b0" stroke-width="0.25">3<tspan font-size="5.76" dy="-3.00">rd</tspan></text>
<text x="437.7" y="139.8" font-size="8" font-family="Liberation Serif" font-weight="bold" fill="#3840b0" stroke="#3840b0" stroke-width="0.25">4<tspan font-size="5.76" dy="-3.00">rd</tspan></text>
<text x="459.0" y="140.8" font-size="8.8" text-anchor="start" font-family="Liberation Serif" font-weight="bold" fill="#3236a4"  stroke="#3236a4" stroke-width="0.28">Replating</text>
<line x1="459.2" y1="142.2" x2="494.6" y2="142.2" stroke="#4f5ed8" stroke-width="1"/>
<line x1="322.7" y1="145" x2="322.7" y2="247.3" stroke="#555" stroke-width="1"/>
<line x1="322.7" y1="246.8" x2="455.6" y2="246.8" stroke="#555" stroke-width="1"/>
<line x1="321.8" y1="150.9" x2="322.7" y2="150.9" stroke="#555" stroke-width="0.6"/>
<line x1="321.8" y1="156.25" x2="322.7" y2="156.25" stroke="#555" stroke-width="0.6"/>
<line x1="321.8" y1="161.6" x2="322.7" y2="161.6" stroke="#555" stroke-width="0.6"/>
<line x1="321.8" y1="166.95" x2="322.7" y2="166.95" stroke="#555" stroke-width="0.6"/>
<line x1="321.8" y1="172.3" x2="322.7" y2="172.3" stroke="#555" stroke-width="0.6"/>
<line x1="321.8" y1="177.65" x2="322.7" y2="177.65" stroke="#555" stroke-width="0.6"/>
<line x1="321.8" y1="183.0" x2="322.7" y2="183.0" stroke="#555" stroke-width="0.6"/>
<line x1="321.8" y1="188.35" x2="322.7" y2="188.35" stroke="#555" stroke-width="0.6"/>
<line x1="321.8" y1="193.7" x2="322.7" y2="193.7" stroke="#555" stroke-width="0.6"/>
<line x1="321.8" y1="199.05" x2="322.7" y2="199.05" stroke="#555" stroke-width="0.6"/>
<line x1="321.8" y1="204.4" x2="322.7" y2="204.4" stroke="#555" stroke-width="0.6"/>
<line x1="321.8" y1="209.75" x2="322.7" y2="209.75" stroke="#555" stroke-width="0.6"/>
<line x1="321.8" y1="223.8" x2="322.7" y2="223.8" stroke="#555" stroke-width="0.6"/>
<line x1="321.8" y1="237.4" x2="322.7" y2="237.4" stroke="#555" stroke-width="0.6"/>
<line x1="321.2" y1="145.5" x2="322.8" y2="145.5" stroke="#555" stroke-width="0.8"/>
<text x="319.4" y="148.0" font-size="7.2" text-anchor="end" font-family="Liberation Serif" font-weight="bold" fill="#111" stroke="#111" stroke-width="0.28">1.3x10<tspan font-size="5" dy="-2.5">6</tspan></text>
<line x1="321.2" y1="164" x2="322.8" y2="164" stroke="#555" stroke-width="0.8"/>
<text x="319.4" y="166.5" font-size="7.2" text-anchor="end" font-family="Liberation Serif" font-weight="bold" fill="#111" stroke="#111" stroke-width="0.28">1x10<tspan font-size="5" dy="-2.5">6</tspan></text>
<line x1="321.2" y1="185" x2="322.8" y2="185" stroke="#555" stroke-width="0.8"/>
<text x="319.4" y="187.5" font-size="7.2" text-anchor="end" font-family="Liberation Serif" font-weight="bold" fill="#111" stroke="#111" stroke-width="0.28">6x10<tspan font-size="5" dy="-2.5">5</tspan></text>
<line x1="321.2" y1="207" x2="322.8" y2="207" stroke="#555" stroke-width="0.8"/>
<text x="319.4" y="209.5" font-size="7.2" text-anchor="end" font-family="Liberation Serif" font-weight="bold" fill="#111" stroke="#111" stroke-width="0.28">2x10<tspan font-size="5" dy="-2.5">5</tspan></text>
<line x1="321.2" y1="217.6" x2="322.8" y2="217.6" stroke="#555" stroke-width="0.8"/>
<text x="319.4" y="220.1" font-size="7.2" text-anchor="end" font-family="Liberation Serif" font-weight="bold" fill="#111" stroke="#111" stroke-width="0.28">4x10<tspan font-size="5" dy="-2.5">4</tspan></text>
<line x1="321.2" y1="230.6" x2="322.8" y2="230.6" stroke="#555" stroke-width="0.8"/>
<text x="319.4" y="233.1" font-size="7.2" text-anchor="end" font-family="Liberation Serif" font-weight="bold" fill="#111" stroke="#111" stroke-width="0.28">2x10<tspan font-size="5" dy="-2.5">4</tspan></text>
<text x="321.2" y="246.9" font-size="7.2" text-anchor="end" font-family="Liberation Serif" font-weight="bold" fill="#111"  stroke="#111" stroke-width="0.28">0</text>
<line x1="321.2" y1="244.2" x2="322.8" y2="244.2" stroke="#555" stroke-width="0.8"/>
<rect x="321" y="211.2" width="3.4" height="2.2" fill="#fff"/>
<path d="M320.6 211.8 L324.8 210.6 M320.6 214.2 L324.8 213" stroke="#444" stroke-width="0.9"/>
<line x1="334" y1="246.9" x2="334" y2="248.8" stroke="#555" stroke-width="0.8"/>
<line x1="370.8" y1="246.9" x2="370.8" y2="248.8" stroke="#555" stroke-width="0.8"/>
<line x1="407.7" y1="246.9" x2="407.7" y2="248.8" stroke="#555" stroke-width="0.8"/>
<line x1="444.6" y1="246.9" x2="444.6" y2="248.8" stroke="#555" stroke-width="0.8"/>
<line x1="334" y1="204.8" x2="334" y2="211.3" stroke="#c88a98" stroke-width="0.7"/>
<line x1="332.9" y1="204.8" x2="335.1" y2="204.8" stroke="#c88a98" stroke-width="0.7"/>
<line x1="332.9" y1="211.3" x2="335.1" y2="211.3" stroke="#c88a98" stroke-width="0.7"/>
<line x1="370.8" y1="184" x2="370.8" y2="192.6" stroke="#c88a98" stroke-width="0.7"/>
<line x1="369.7" y1="184" x2="371.90000000000003" y2="184" stroke="#c88a98" stroke-width="0.7"/>
<line x1="369.7" y1="192.6" x2="371.90000000000003" y2="192.6" stroke="#c88a98" stroke-width="0.7"/>
<line x1="407.7" y1="146.4" x2="407.7" y2="181" stroke="#c88a98" stroke-width="0.7"/>
<line x1="406.59999999999997" y1="146.4" x2="408.8" y2="146.4" stroke="#c88a98" stroke-width="0.7"/>
<line x1="406.59999999999997" y1="181" x2="408.8" y2="181" stroke="#c88a98" stroke-width="0.7"/>
<line x1="444.6" y1="149" x2="444.6" y2="162" stroke="#c88a98" stroke-width="0.7"/>
<line x1="443.5" y1="149" x2="445.70000000000005" y2="149" stroke="#c88a98" stroke-width="0.7"/>
<line x1="443.5" y1="162" x2="445.70000000000005" y2="162" stroke="#c88a98" stroke-width="0.7"/>
<polyline points="334,208.1 370.8,187.7 407.7,163.7 444.6,155.5" fill="none" stroke="#c82a40" stroke-width="1.1"/>
<circle cx="334" cy="208.1" r="1.6" fill="#c41a38"/>
<circle cx="370.8" cy="187.7" r="1.6" fill="#c41a38"/>
<circle cx="407.7" cy="163.7" r="1.6" fill="#c41a38"/>
<circle cx="444.6" cy="155.5" r="1.6" fill="#c41a38"/>
<line x1="334" y1="235.4" x2="334" y2="243.7" stroke="#777" stroke-width="0.7"/>
<line x1="332.9" y1="235.4" x2="335.1" y2="235.4" stroke="#777" stroke-width="0.7"/>
<line x1="332.9" y1="243.7" x2="335.1" y2="243.7" stroke="#777" stroke-width="0.7"/>
<line x1="370.8" y1="224.4" x2="370.8" y2="232" stroke="#777" stroke-width="0.7"/>
<line x1="369.7" y1="224.4" x2="371.90000000000003" y2="224.4" stroke="#777" stroke-width="0.7"/>
<line x1="369.7" y1="232" x2="371.90000000000003" y2="232" stroke="#777" stroke-width="0.7"/>
<line x1="407.7" y1="240.8" x2="407.7" y2="245.4" stroke="#777" stroke-width="0.7"/>
<line x1="406.59999999999997" y1="240.8" x2="408.8" y2="240.8" stroke="#777" stroke-width="0.7"/>
<line x1="406.59999999999997" y1="245.4" x2="408.8" y2="245.4" stroke="#777" stroke-width="0.7"/>
<line x1="444.6" y1="243.5" x2="444.6" y2="245" stroke="#777" stroke-width="0.7"/>
<line x1="443.5" y1="243.5" x2="445.70000000000005" y2="243.5" stroke="#777" stroke-width="0.7"/>
<line x1="443.5" y1="245" x2="445.70000000000005" y2="245" stroke="#777" stroke-width="0.7"/>
<polyline points="334,239.8 370.8,228.2 407.7,243.1 444.6,244.2" fill="none" stroke="#111" stroke-width="1.1"/>
<rect x="332.4" y="238.20000000000002" width="3.2" height="3.2" fill="#111"/>
<rect x="369.2" y="226.6" width="3.2" height="3.2" fill="#111"/>
<rect x="406.09999999999997" y="241.5" width="3.2" height="3.2" fill="#111"/>
<rect x="443.0" y="242.6" width="3.2" height="3.2" fill="#111"/>
<circle cx="334.4" cy="202.4" r="1.45" fill="#1a1a1a"/>
<circle cx="369.34999999999997" cy="180.8" r="1.45" fill="#1a1a1a"/><circle cx="373.45" cy="180.8" r="1.45" fill="#1a1a1a"/>
<circle cx="405.65" cy="144.8" r="1.45" fill="#1a1a1a"/><circle cx="409.75" cy="144.8" r="1.45" fill="#1a1a1a"/>
<circle cx="442.65" cy="145.4" r="1.45" fill="#1a1a1a"/><circle cx="446.75" cy="145.4" r="1.45" fill="#1a1a1a"/>
<text transform="translate(296.2,195.6) rotate(-90)" font-size="8.8" text-anchor="middle" font-family="Liberation Serif" font-weight="bold" fill="#111" stroke="#111" stroke-width="0.28">Total Cell No/Well</text>
<line x1="324.3" y1="252.7" x2="324.3" y2="354.9" stroke="#555" stroke-width="1"/>
<line x1="324.3" y1="354.4" x2="455" y2="354.4" stroke="#555" stroke-width="1"/>
<line x1="322.4" y1="254.1" x2="324.3" y2="254.1" stroke="#555" stroke-width="0.9"/>
<text x="320.8" y="256.6" font-size="7.3" text-anchor="end" font-family="Liberation Serif" font-weight="bold" fill="#111"  stroke="#111" stroke-width="0.28">50</text>
<line x1="322.4" y1="272.4" x2="324.3" y2="272.4" stroke="#555" stroke-width="0.9"/>
<text x="320.8" y="274.9" font-size="7.3" text-anchor="end" font-family="Liberation Serif" font-weight="bold" fill="#111"  stroke="#111" stroke-width="0.28">40</text>
<line x1="322.4" y1="290.7" x2="324.3" y2="290.7" stroke="#555" stroke-width="0.9"/>
<text x="320.8" y="293.2" font-size="7.3" text-anchor="end" font-family="Liberation Serif" font-weight="bold" fill="#111"  stroke="#111" stroke-width="0.28">30</text>
<line x1="322.4" y1="309.0" x2="324.3" y2="309.0" stroke="#555" stroke-width="0.9"/>
<text x="320.8" y="311.5" font-size="7.3" text-anchor="end" font-family="Liberation Serif" font-weight="bold" fill="#111"  stroke="#111" stroke-width="0.28">20</text>
<line x1="322.4" y1="327.3" x2="324.3" y2="327.3" stroke="#555" stroke-width="0.9"/>
<text x="320.8" y="329.8" font-size="7.3" text-anchor="end" font-family="Liberation Serif" font-weight="bold" fill="#111"  stroke="#111" stroke-width="0.28">10</text>
<line x1="322.4" y1="345.6" x2="324.3" y2="345.6" stroke="#555" stroke-width="0.9"/>
<text x="320.8" y="348.1" font-size="7.3" text-anchor="end" font-family="Liberation Serif" font-weight="bold" fill="#111"  stroke="#111" stroke-width="0.28">0</text>
<line x1="334.8" y1="354.2" x2="334.8" y2="356" stroke="#555" stroke-width="0.8"/>
<text x="334.8" y="364" font-size="7.3" text-anchor="middle" font-family="Liberation Serif" font-weight="bold" fill="#111"  stroke="#111" stroke-width="0.28">14</text>
<line x1="371.3" y1="354.2" x2="371.3" y2="356" stroke="#555" stroke-width="0.8"/>
<text x="371.3" y="364" font-size="7.3" text-anchor="middle" font-family="Liberation Serif" font-weight="bold" fill="#111"  stroke="#111" stroke-width="0.28">21</text>
<line x1="407.8" y1="354.2" x2="407.8" y2="356" stroke="#555" stroke-width="0.8"/>
<text x="407.8" y="364" font-size="7.3" text-anchor="middle" font-family="Liberation Serif" font-weight="bold" fill="#111"  stroke="#111" stroke-width="0.28">28</text>
<line x1="444.4" y1="354.2" x2="444.4" y2="356" stroke="#555" stroke-width="0.8"/>
<text x="444.4" y="364" font-size="7.3" text-anchor="middle" font-family="Liberation Serif" font-weight="bold" fill="#111"  stroke="#111" stroke-width="0.28">35</text>
<line x1="334.8" y1="305.4" x2="334.8" y2="326" stroke="#c88a98" stroke-width="0.7"/>
<line x1="333.7" y1="305.4" x2="335.90000000000003" y2="305.4" stroke="#c88a98" stroke-width="0.7"/>
<line x1="333.7" y1="326" x2="335.90000000000003" y2="326" stroke="#c88a98" stroke-width="0.7"/>
<line x1="371.3" y1="309.2" x2="371.3" y2="335.2" stroke="#c88a98" stroke-width="0.7"/>
<line x1="370.2" y1="309.2" x2="372.40000000000003" y2="309.2" stroke="#c88a98" stroke-width="0.7"/>
<line x1="370.2" y1="335.2" x2="372.40000000000003" y2="335.2" stroke="#c88a98" stroke-width="0.7"/>
<line x1="407.8" y1="294.9" x2="407.8" y2="310.9" stroke="#c88a98" stroke-width="0.7"/>
<line x1="406.7" y1="294.9" x2="408.90000000000003" y2="294.9" stroke="#c88a98" stroke-width="0.7"/>
<line x1="406.7" y1="310.9" x2="408.90000000000003" y2="310.9" stroke="#c88a98" stroke-width="0.7"/>
<line x1="444.4" y1="279.5" x2="444.4" y2="287.5" stroke="#c88a98" stroke-width="0.7"/>
<line x1="443.29999999999995" y1="279.5" x2="445.5" y2="279.5" stroke="#c88a98" stroke-width="0.7"/>
<line x1="443.29999999999995" y1="287.5" x2="445.5" y2="287.5" stroke="#c88a98" stroke-width="0.7"/>
<polyline points="334.8,315.8 371.3,322.5 407.8,302.9 444.4,283" fill="none" stroke="#c82a40" stroke-width="1.1"/>
<circle cx="334.8" cy="315.8" r="1.6" fill="#c41a38"/>
<circle cx="371.3" cy="322.5" r="1.6" fill="#c41a38"/>
<circle cx="407.8" cy="302.9" r="1.6" fill="#c41a38"/>
<circle cx="444.4" cy="283" r="1.6" fill="#c41a38"/>
<line x1="334.8" y1="334.6" x2="334.8" y2="339.6" stroke="#777" stroke-width="0.7"/>
<line x1="333.7" y1="334.6" x2="335.90000000000003" y2="334.6" stroke="#777" stroke-width="0.7"/>
<line x1="333.7" y1="339.6" x2="335.90000000000003" y2="339.6" stroke="#777" stroke-width="0.7"/>
<line x1="371.3" y1="342.2" x2="371.3" y2="346.2" stroke="#777" stroke-width="0.7"/>
<line x1="370.2" y1="342.2" x2="372.40000000000003" y2="342.2" stroke="#777" stroke-width="0.7"/>
<line x1="370.2" y1="346.2" x2="372.40000000000003" y2="346.2" stroke="#777" stroke-width="0.7"/>
<line x1="407.8" y1="344.5" x2="407.8" y2="346" stroke="#777" stroke-width="0.7"/>
<line x1="406.7" y1="344.5" x2="408.90000000000003" y2="344.5" stroke="#777" stroke-width="0.7"/>
<line x1="406.7" y1="346" x2="408.90000000000003" y2="346" stroke="#777" stroke-width="0.7"/>
<line x1="444.4" y1="344.5" x2="444.4" y2="346" stroke="#777" stroke-width="0.7"/>
<line x1="443.29999999999995" y1="344.5" x2="445.5" y2="344.5" stroke="#777" stroke-width="0.7"/>
<line x1="443.29999999999995" y1="346" x2="445.5" y2="346" stroke="#777" stroke-width="0.7"/>
<polyline points="334.8,337.1 371.3,344.2 407.8,345.2 444.4,345.2" fill="none" stroke="#111" stroke-width="1.1"/>
<rect x="333.2" y="335.5" width="3.2" height="3.2" fill="#111"/>
<rect x="369.7" y="342.59999999999997" width="3.2" height="3.2" fill="#111"/>
<rect x="406.2" y="343.59999999999997" width="3.2" height="3.2" fill="#111"/>
<rect x="442.79999999999995" y="343.59999999999997" width="3.2" height="3.2" fill="#111"/>
<circle cx="334.6" cy="301" r="1.45" fill="#1a1a1a"/>
<circle cx="370.6" cy="305.7" r="1.45" fill="#1a1a1a"/>
<circle cx="405.75" cy="292.6" r="1.45" fill="#1a1a1a"/><circle cx="409.85" cy="292.6" r="1.45" fill="#1a1a1a"/>
<circle cx="442.34999999999997" cy="276.3" r="1.45" fill="#1a1a1a"/><circle cx="446.45" cy="276.3" r="1.45" fill="#1a1a1a"/>
<text transform="translate(302.4,306.9) rotate(-90)" font-size="8.7" text-anchor="middle" font-family="Liberation Serif" font-weight="bold" fill="#111" stroke="#111" stroke-width="0.28">Replating Efficiency</text>
<text x="451.9" y="363.7" font-size="8.6" text-anchor="start" font-family="Liberation Serif" font-weight="bold" fill="#111"  stroke="#111" stroke-width="0.28">Days after sorting</text>
</svg>
</body></html>
